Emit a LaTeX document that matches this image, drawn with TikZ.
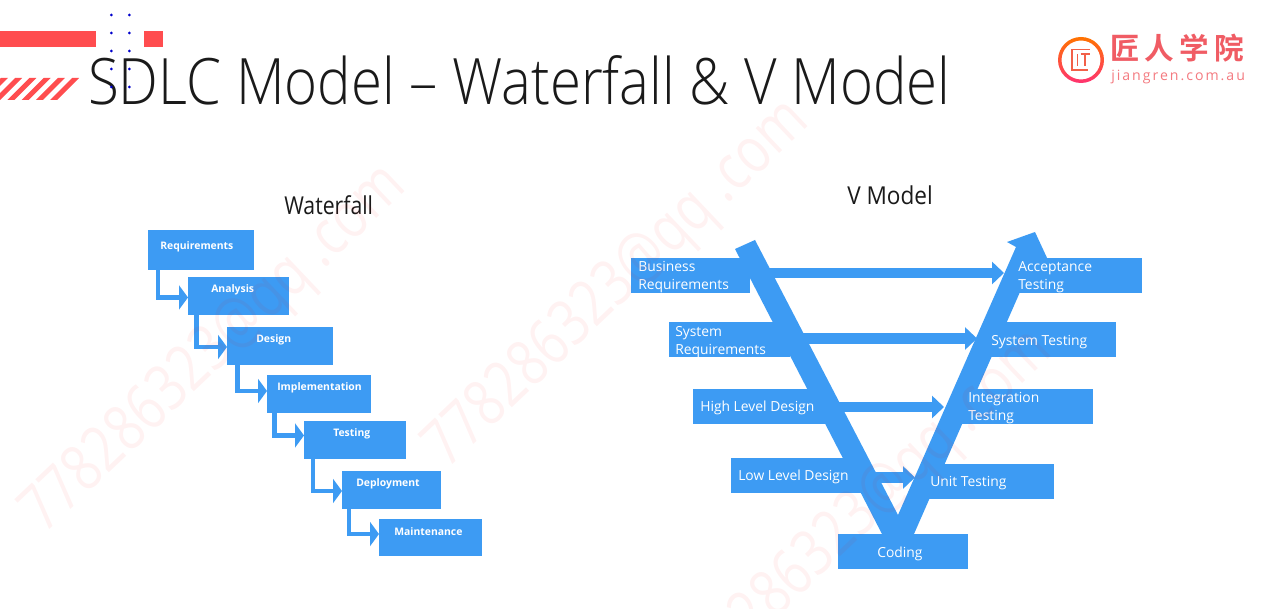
\documentclass[tikz,border=0pt]{standalone}
\usepackage{fontspec}
\usetikzlibrary{arrows.meta}
\setmainfont{Open Sans}
\newfontfamily\lightf{Open Sans Light}
\newfontfamily\cjk[LetterSpace=17]{Noto Sans CJK SC Bold}
\newfontfamily\logof[LetterSpace=14]{Open Sans}
\definecolor{bl}{HTML}{3D9BF3}
\definecolor{rd}{HTML}{FF4D4F}
\definecolor{ink}{HTML}{1A1A1A}
\newcommand{\fs}[1]{\fontsize{#1}{#1}\selectfont}
\tikzset{
  x=.75pt,y=-.75pt,
  boxsize/.style 2 args={minimum width=#1*.75pt,minimum height=#2*.75pt},
  bbox/.style={fill=bl,draw=none,inner sep=0pt,outer sep=0pt,anchor=north west},
  wlabel/.style={text=white,font=\bfseries\fs{7.8},inner sep=0pt,anchor=base west},
  vlabel/.style={text=white,font=\fs{10.4},inner sep=0pt,anchor=base west},
  vtwo/.style={text=white,font=\fs{10.4},inner sep=0pt,anchor=west,align=left},
  wfarrow/.style={draw=bl,line width=3.4pt,-{Triangle[length=6.75pt,width=18pt]}},
  varrow/.style={draw=bl,line width=7.9pt,-{Triangle[length=9pt,width=16.5pt]}},
  heading/.style={text=ink,inner sep=0pt,anchor=base west},
  wmark/.style={text=red,text opacity=.05,inner sep=0pt,anchor=base west,rotate=43.5,font=\fs{48}},
}
\newcommand{\wm}{\scalebox{.8}[1]{778286323@qq .com}}
\begin{document}
\begin{tikzpicture}
\useasboundingbox (0,0) rectangle (1279,609);
\fill[white] (0,0) rectangle (1279,609);
% header
\fill[rd] (0,31) rectangle (96,47);
\fill[rd] (144,31) rectangle (162.5,47);
\begin{scope}
\clip (0,70) rectangle (90,105);
\foreach \t in {8,22.2,36.4,50.6,64.8,79.2}
  \fill[rd] (\t,78) -- (\t-7,78) -- (\t-29,100) -- (\t-22,100) -- cycle;
\end{scope}
\node[heading,font=\lightf\fs{48}] (title) at (88,105) {\scalebox{.88}[1]{SDLC Model – Waterfall \& V Model}};
\foreach \px in {111.3,129.3}
  \foreach \py in {15,33,51,69,87}
    \fill[blue!80!black] (\px,\py) circle[radius=1.5];
% logo
\path[even odd rule,top color=orange!90!red,bottom color=red!70!magenta!80!white]
  (1081,60) circle[radius=23] (1081,60) circle[radius=19.5];
\draw[color={rgb,255:red,242;green,96;blue,72},line width=1.2pt]
  (1090,49.5) -- (1072,49.5) -- (1072,70) -- (1088,70);
\draw[color={rgb,255:red,242;green,96;blue,72},line width=1.2pt]
  (1077.5,54) -- (1077.5,66) (1080.5,54) -- (1090,54) (1085.2,54) -- (1085.2,66);
\node[inner sep=0pt,anchor=base west,text={rgb,255:red,240;green,92;blue,100},font=\cjk\fs{22.2}] (logocn) at (1110,59.5) {匠人学院};
\node[inner sep=0pt,anchor=base west,text={rgb,255:red,244;green,122;blue,128},font=\logof\fs{10.6}] (logoen) at (1111,81) {jiangren.com.au};
% headings
\node[heading,font=\fs{18.5}] (wtitle) at (284,215) {\scalebox{.86}[1]{Waterfall}};
\node[heading,font=\fs{18.5}] (vtitle) at (847,205) {\scalebox{.915}[1]{V Model}};
% waterfall boxes
\node[bbox,boxsize={106}{40}] (req) at (148,230) {};
\node[bbox,boxsize={101}{38}] (ana) at (188,277) {};
\node[bbox,boxsize={106}{38}] (des) at (227,327) {};
\node[bbox,boxsize={104}{38}] (imp) at (267,375) {};
\node[bbox,boxsize={102}{38}] (tes) at (304,421) {};
\node[bbox,boxsize={99}{38}] (dep) at (342,471) {};
\node[bbox,boxsize={103}{37}] (mai) at (379,519) {};
\draw[wfarrow] ([xshift=7.35pt]req.south west) |- ([yshift=-1.1pt]ana.west);
\draw[wfarrow] ([xshift=6.2pt]ana.south west) |- ([yshift=-.75pt]des.west);
\draw[wfarrow] ([xshift=7.8pt]des.south west) |- ([yshift=2.25pt]imp.west);
\draw[wfarrow] ([xshift=5.6pt]imp.south west) |- ([yshift=3.4pt]tes.west);
\draw[wfarrow] ([xshift=6.75pt]tes.south west) |- ([yshift=-.75pt]dep.west);
\draw[wfarrow] ([xshift=5.25pt]dep.south west) |- ([yshift=2.6pt]mai.west);
\node[wlabel] (reqt) at (160,250) {Requirements};
\node[wlabel] (anat) at (211,293) {Analysis};
\node[wlabel] (dest) at (256,343) {Design};
\node[wlabel] (impt) at (277,391) {Implementation};
\node[wlabel] (test) at (333,437) {Testing};
\node[wlabel] (dept) at (356,487) {Deployment};
\node[wlabel] (mait) at (394,536) {Maintenance};
% V
\fill[bl] (735,249) -- (755,240) -- (898,515) -- (1016,247) -- (1007,242) -- (1035,232)
  -- (1048,260) -- (1034,260) -- (914,534) -- (882,534) -- cycle;
\node[bbox,boxsize={119}{35}] (br) at (631,258) {};
\node[bbox,boxsize={121}{35}] (sr) at (669,322) {};
\node[bbox,boxsize={137}{35}] (hl) at (693,389) {};
\node[bbox,boxsize={134}{35}] (ll) at (731,458) {};
\node[bbox,boxsize={131}{35}] (at) at (1011,258) {};
\node[bbox,boxsize={132}{35}] (st) at (984,322) {};
\node[bbox,boxsize={132}{35}] (it) at (961,389) {};
\node[bbox,boxsize={131}{35}] (ut) at (923,464) {};
\node[bbox,boxsize={130}{35}] (co) at (838,534) {};
\coordinate (tipa) at (1004,273);
\coordinate (tipb) at (977,338.5);
\coordinate (tipc) at (944,407);
\coordinate (tipd) at (915,477.5);
\draw[varrow] (br.east |- tipa) -- (tipa);
\draw[varrow] (sr.east |- tipb) -- (tipb);
\draw[varrow] (hl.east |- tipc) -- (tipc);
\draw[varrow] (ll.east |- tipd) -- (tipd);
\node[vtwo] (brt) at (638,277.5) {Business\\[3pt]Requirements};
\node[vtwo] (srt) at (675,342.5) {System\\[3pt]Requirements};
\node[vlabel] (hlt) at (700,412) {High Level Design};
\node[vlabel] (llt) at (738,481) {Low Level Design};
\node[vtwo] (att) at (1018,277.5) {Acceptance\\[3pt]Testing};
\node[vlabel] (stt) at (991,346) {System Testing};
\node[vtwo] (itt) at (968,408) {Integration\\[3pt]Testing};
\node[vlabel] (utt) at (930,487) {Unit Testing};
\node[vlabel] (cot) at (877,558) {Coding};
% watermarks
\begin{scope}
\clip (0,0) rectangle (1279,609);
\node[wmark] (wa) at (44,535) {\wm};
\node[wmark] (wb) at (447,470) {\wm};
\node[wmark] (wc) at (690,700) {\wm};
\end{scope}
\end{tikzpicture}
\end{document}
